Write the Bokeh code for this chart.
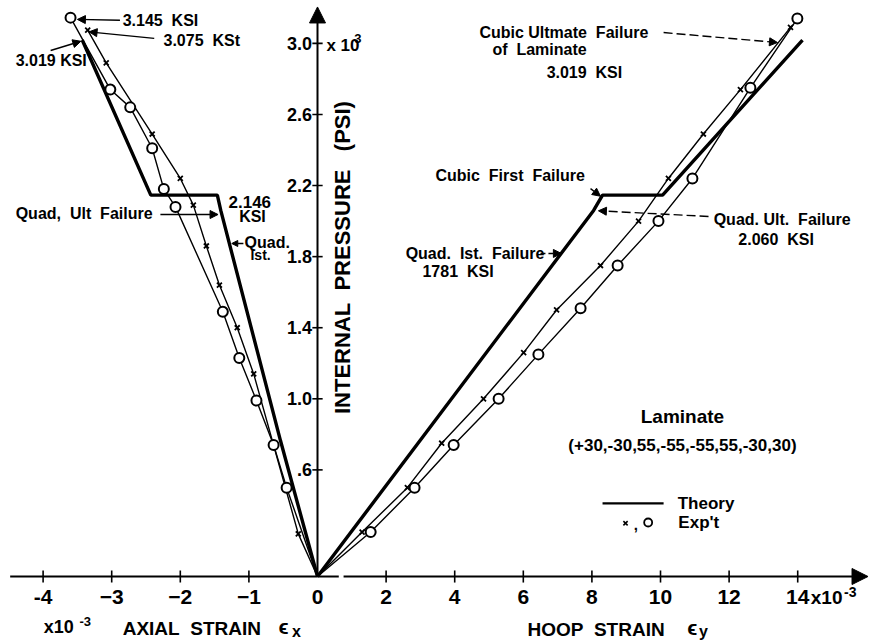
from bokeh.plotting import figure
from bokeh.models import Range1d, Arrow, NormalHead
from bokeh.core.properties import value
from bokeh.embed import file_html
from bokeh.resources import INLINE

FONT = "Liberation Sans"

# ---- Axial strain side (x 10^-3), pressure in ksi --------------------------
axial_circle_strain = [-3.60, -3.02, -2.73, -2.41, -2.24, -2.07, -1.38, -1.14, -0.89, -0.64, -0.45]
axial_circle_psi = [3.145, 2.74, 2.64, 2.41, 2.18, 2.08, 1.49, 1.23, 0.99, 0.74, 0.50]
axial_x_strain = [-3.35, -3.08, -2.41, -2.00, -1.81, -1.62, -1.43, -1.17, -0.93, -0.28]
axial_x_psi = [3.075, 2.89, 2.49, 2.24, 2.09, 1.86, 1.64, 1.40, 1.14, 0.24]
axial_theory_strain = [0.0, -0.54, -1.41, -1.46, -2.43, -3.43]
axial_theory_psi = [0.0, 0.765, 2.060, 2.146, 2.146, 3.019]

# ---- Hoop strain side (x 10^-3) ---------------------------------------------
hoop_circle_strain = [1.55, 2.83, 3.97, 5.28, 6.44, 7.67, 8.75, 9.94, 10.93, 12.62, 13.99]
hoop_circle_psi = [0.25, 0.50, 0.74, 1.00, 1.25, 1.51, 1.75, 2.00, 2.24, 2.75, 3.14]
hoop_x_strain = [1.30, 2.62, 3.62, 4.84, 6.01, 6.97, 8.25, 9.36, 10.23, 11.25, 12.33, 13.79]
hoop_x_psi = [0.25, 0.50, 0.75, 1.00, 1.26, 1.50, 1.75, 2.00, 2.24, 2.49, 2.74, 3.09]
hoop_theory_strain = [0.0, 8.05, 8.31, 10.06, 14.14]
hoop_theory_psi = [0.0, 2.060, 2.146, 2.146, 3.019]

# ---- Tick values and labels ---------------------------------------------------
axial_ticks = [-4, -3, -2, -1]
axial_tick_labels = ["-4", "\u22123", "\u22122", "\u22121"]
hoop_ticks = [2, 4, 6, 8, 10, 12, 14]
hoop_tick_labels = ["2", "4", "6", "8", "10", "12", "14"]
psi_ticks = [0.6, 1.0, 1.4, 1.8, 2.2, 2.6, 3.0]
psi_tick_labels = [".6", "1.0", "1.4", "1.8", "2.2", "2.6", "3.0"]

W, H = 869, 643
p = figure(width=W, height=H, output_backend="svg", toolbar_location=None,
           x_axis_location=None, y_axis_location=None, min_border=0,
           x_range=Range1d(-9.242, 16.093), y_range=Range1d(-0.377, 3.2414))
# the axial half of the chart is drawn at twice the hoop scale
p.extra_x_ranges = {"axial": Range1d(-9.242 / 2, 16.093 / 2)}
p.outline_line_color = None
p.grid.visible = False
p.background_fill_color = "white"
p.border_fill_color = "white"

INK = "black"


def txt(x, y, s, size=16, align="left", rng="default", angle=0.0, style="bold"):
    p.text(x=[x], y=[y], text=[s], text_font=value(FONT), text_font_size=f"{size}px",
           text_font_style=style, text_align=align, text_baseline="middle",
           text_color=INK, angle=angle, x_range_name=rng)


def arrow(x0, y0, x1, y1, rng="default", dash="solid", size=8, width=1.4):
    p.add_layout(Arrow(end=NormalHead(size=size, fill_color=INK, line_color=INK, line_width=1),
                       x_start=x0, y_start=y0, x_end=x1, y_end=y1, line_color=INK,
                       line_width=width, line_dash=dash, x_range_name=rng))


# ---- Axes ----------------------------------------------------------------------
p.segment(x0=[-4.48], y0=[0], x1=[0], y1=[0], x_range_name="axial", line_color=INK, line_width=2)
p.segment(x0=[0], y0=[0], x1=[0.62], y1=[0], line_color=INK, line_width=2)
arrow(0.76, 0, 16.05, 0, size=16, width=2)
arrow(0, 0, 0, 3.205, size=16, width=2)

p.segment(x0=axial_ticks, y0=[-0.034] * 4, x1=axial_ticks, y1=[0.034] * 4,
          x_range_name="axial", line_color=INK, line_width=1.6)
p.segment(x0=hoop_ticks, y0=[-0.034] * 7, x1=hoop_ticks, y1=[0.034] * 7,
          line_color=INK, line_width=1.6)
p.segment(x0=[-0.15] * 7, y0=psi_ticks, x1=[0.15] * 7, y1=psi_ticks, line_color=INK, line_width=1.6)

for t, s in zip(axial_ticks, axial_tick_labels):
    txt(t, -0.118, s, size=21, align="center", rng="axial")
txt(0, -0.118, "0", size=21, align="center")
for t, s in zip(hoop_ticks, hoop_tick_labels):
    txt(t, -0.118, s, size=21, align="center")
txt(14.38, -0.118, "x10", size=19)
txt(15.35, -0.088, "-3", size=14)
for t, s in zip(psi_ticks, psi_tick_labels):
    txt(-0.16, t, s, size=18, align="right")
txt(0.26, 2.99, "x 10", size=17)
txt(1.07, 3.03, "3", size=13)

# axis titles
txt(-3.99, -0.286, "x10", size=18, rng="axial")
txt(-3.47, -0.253, "-3", size=13, rng="axial")
txt(-2.84, -0.29, "AXIAL\u00a0\u00a0STRAIN", size=19, rng="axial")
txt(-0.57, -0.282, "\u03f5", size=21, rng="axial")
txt(-0.37, -0.31, "x", size=16, rng="axial")
txt(6.12, -0.297, "HOOP\u00a0\u00a0STRAIN", size=19)
txt(10.78, -0.289, "\u03f5", size=21)
txt(11.12, -0.312, "y", size=16)
txt(0.73, 1.795, "INTERNAL\u00a0\u00a0PRESSURE\u00a0\u00a0\u00a0(PSI)", size=22,
    align="center", angle=1.5708)

# ---- Theory (thick) lines ---------------------------------------------------------
p.line(axial_theory_strain, axial_theory_psi, x_range_name="axial", line_color=INK, line_width=3.4)
p.line(hoop_theory_strain, hoop_theory_psi, line_color=INK, line_width=3.4)

# ---- Experimental points with connecting lines -------------------------------------
p.line([0.0] + axial_circle_strain[::-1], [0.0] + axial_circle_psi[::-1],
       x_range_name="axial", line_color=INK, line_width=1.4)
p.line([0.0] + axial_x_strain[::-1], [0.0] + axial_x_psi[::-1],
       x_range_name="axial", line_color=INK, line_width=1.4)
p.line([0.0] + hoop_circle_strain, [0.0] + hoop_circle_psi, line_color=INK, line_width=1.4)
p.line([0.0] + hoop_x_strain, [0.0] + hoop_x_psi, line_color=INK, line_width=1.4)

p.scatter(axial_x_strain, axial_x_psi, marker="x", size=7, line_color=INK, line_width=1.8,
          x_range_name="axial")
p.scatter(hoop_x_strain, hoop_x_psi, marker="x", size=7, line_color=INK, line_width=1.8)
p.scatter(axial_circle_strain, axial_circle_psi, marker="circle", size=10, fill_color="white",
          line_color=INK, line_width=2, x_range_name="axial")
p.scatter(hoop_circle_strain, hoop_circle_psi, marker="circle", size=10, fill_color="white",
          line_color=INK, line_width=2)

# ---- Annotations: axial side --------------------------------------------------------
txt(-2.84, 3.13, "3.145\u00a0\u00a0KSI", rng="axial")
arrow(-2.88, 3.13, -3.50, 3.135, rng="axial")
txt(-2.245, 3.016, "3.075\u00a0\u00a0KSt", rng="axial")
arrow(-2.38, 3.028, -3.33, 3.065, rng="axial")
txt(-4.40, 2.904, "3.019 KSI", rng="axial")
arrow(-3.89, 2.96, -3.45, 3.012, rng="axial")
txt(-1.297, 2.11, "2.146", size=17, rng="axial")
txt(-0.948, 2.026, "KSI", size=16, align="center", rng="axial")
txt(-4.40, 2.043, "Quad,\u00a0\u00a0Ult\u00a0\u00a0Failure", rng="axial")
arrow(-2.29, 2.037, -1.45, 2.037, rng="axial")
txt(-1.064, 1.88, "Quad.", rng="axial")
arrow(-1.08, 1.874, -1.25, 1.874, rng="axial", size=6)
txt(-0.977, 1.81, "Ist.", size=14, rng="axial")

# ---- Annotations: hoop side -----------------------------------------------------------
txt(4.72, 3.061, "Cubic\u00a0Ultmate\u00a0\u00a0Failure")
txt(5.10, 2.966, "of\u00a0\u00a0Laminate")
txt(6.68, 2.836, "3.019\u00a0\u00a0KSI")
arrow(10.09, 3.061, 13.41, 3.005, dash="9 4")
txt(3.44, 2.257, "Cubic\u00a0\u00a0First\u00a0\u00a0Failure")
arrow(7.96, 2.183, 8.25, 2.14)
txt(2.57, 1.818, "Quad.\u00a0\u00a0Ist.\u00a0\u00a0Failure")
arrow(6.50, 1.818, 7.11, 1.818, dash="5 3")
txt(3.06, 1.716, "1781\u00a0\u00a0KSI")
txt(11.55, 2.009, "Quad.\u00a0Ult.\u00a0\u00a0Failure")
txt(12.27, 1.896, "2.060\u00a0\u00a0KSI")
arrow(11.40, 2.026, 8.19, 2.058, dash="9 4")

# ---- Legend ---------------------------------------------------------------------------
txt(10.64, 0.90, "Laminate", size=19, align="center")
txt(10.64, 0.737, "(+30,-30,55,-55,-55,55,-30,30)", size=17, align="center")
p.line([8.31, 10.09], [0.411, 0.411], line_color=INK, line_width=2.2)
txt(10.50, 0.411, "Theory", size=17)
p.scatter([8.98], [0.30], marker="x", size=6, line_color=INK, line_width=1.6)
txt(9.22, 0.29, ",", size=15)
p.scatter([9.64], [0.304], marker="circle", size=8, fill_color="white", line_color=INK, line_width=1.8)
txt(10.52, 0.304, "Exp't", size=17)

open("out.html", "w").write(file_html(p, INLINE))
